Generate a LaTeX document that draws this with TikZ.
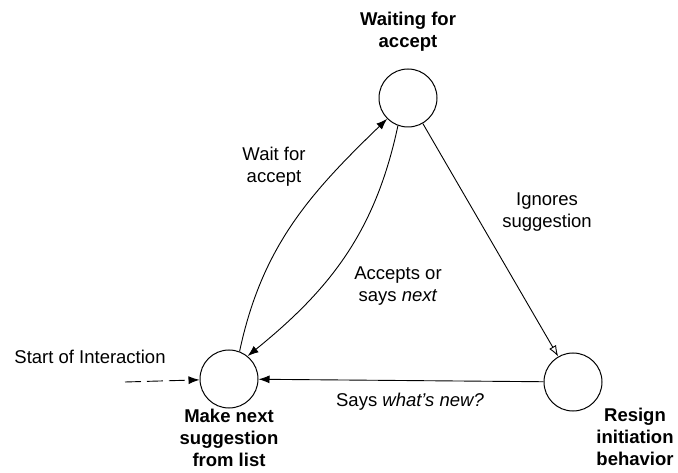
\documentclass[tikz,border=0pt]{standalone}
\usepackage{fontspec}
\setmainfont{Liberation Sans}
\usepackage{tikz}
\usetikzlibrary{arrows.meta}
\newcommand{\figtext}{\fontsize{18.5}{22}\selectfont}
\tikzset{
  state/.style={draw,circle,minimum size=58pt,inner sep=0pt,line width=1pt},
  statelabel/.style={font=\figtext\bfseries,align=center},
  edgelabel/.style={font=\figtext,align=center},
  arr/.style={-{Latex[length=11pt,width=8pt]},line width=0.9pt},
  openarr/.style={-{Latex[open,length=11pt,width=8pt]},line width=0.9pt},
}
\begin{document}
\begin{tikzpicture}[x=1pt,y=1pt]
\fill[white] (0,0) rectangle (678,472);
\useasboundingbox (0,0) rectangle (678,472);

\node[state] (wait) at (408,374) {};
\node[state] (make) at (229,93) {};
\node[state] (resign) at (573,90) {};

\node[statelabel] (waitlbl) at (408,440) {Waiting for\\accept};
\node[statelabel] (makelbl) at (229,34) {Make next\\suggestion\\from list};
\node[statelabel] (resignlbl) at (635,35) {Resign\\initiation\\behavior};

\coordinate (start) at (125,90);
\node[edgelabel] (startlbl) at (90,115) {Start of Interaction};
\draw[arr,dash pattern=on 16pt off 6pt] (start) -- (make);

\draw[arr] (make.69) to[out=78,in=224] (wait.225);
\node[edgelabel] (waitfor) at (274,305) {Wait for\\accept};

\draw[arr] (wait.250) to[out=258,in=39] (make.51);
\node[edgelabel] (accepts) at (398,186) {Accepts or\\says \textit{next}};

\draw[openarr] (wait) -- (resign);
\node[edgelabel] (ignores) at (547,260) {Ignores\\suggestion};

\draw[arr] (resign) -- (make);
\node[edgelabel] (sayswhat) at (410,70) {Says \textit{what's new?}};
\end{tikzpicture}
\end{document}
